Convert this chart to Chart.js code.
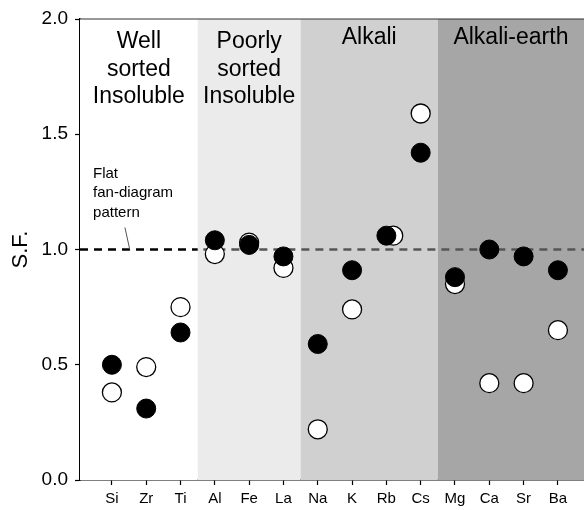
<!DOCTYPE html>
<html>
<head>
<meta charset="utf-8">
<script src="https://cdn.jsdelivr.net/npm/chart.js@4.4.0/dist/chart.umd.min.js"></script>
<style>
  html, body { margin: 0; padding: 0; background: #fff; }
  #wrap { width: 584px; height: 510px; }
</style>
</head>
<body>
<div id="wrap"><canvas id="sfChart" width="584" height="510"></canvas></div>
<script>
// elements along the x axis
const elements = ["Si", "Zr", "Ti", "Al", "Fe", "La", "Na", "K", "Rb", "Cs", "Mg", "Ca", "Sr", "Ba"];
// S.F. values
const filledSF = [0.50, 0.31, 0.64, 1.04, 1.02, 0.97, 0.59, 0.91, 1.06, 1.42, 0.88, 1.00, 0.97, 0.91];
const openSF   = [0.38, 0.49, 0.75, 0.98, 1.03, 0.92, 0.22, 0.74, 1.06, 1.59, 0.85, 0.42, 0.42, 0.65];
// Rb open circle sits a little to the right of its filled one
const openShift = [0, 0, 0, 0, 0, 0, 0, 0, 0.2, 0, 0, 0, 0, 0];
const yTicks = [0.0, 0.5, 1.0, 1.5, 2.0];
const flatLevel = 1.0;

// element groups (edges are between categories)
const groupNames = [["Well", "sorted", "Insoluble"], ["Poorly", "sorted", "Insoluble"], ["Alkali"], ["Alkali-earth"]];
const groupEdges = [2.5, 5.5, 9.5];
const groupFills = ["#ffffff", "#ebebeb", "#d0d0d0", "#a6a6a6"];

const xMin = -0.93, xMax = 13.76;
const FONT = "'Liberation Sans', Arial, Helvetica, sans-serif";

// background bands + labels + reference line
const bandPlugin = {
  id: "bands",
  beforeDatasetsDraw(chart) {
    const { ctx, chartArea, scales } = chart;
    const x = scales.x, y = scales.y;
    const edges = [xMin].concat(groupEdges, [xMax]);
    ctx.save();
    for (let i = 0; i < groupFills.length; i++) {
      const x0 = x.getPixelForValue(edges[i]);
      const x1 = x.getPixelForValue(edges[i + 1]);
      ctx.fillStyle = groupFills[i];
      ctx.fillRect(x0, chartArea.top, x1 - x0, chartArea.bottom - chartArea.top);

      ctx.fillStyle = "#000";
      ctx.font = "23px " + FONT;
      ctx.textAlign = "center";
      ctx.textBaseline = "middle";
      const cx = (x0 + x1) / 2;
      groupNames[i].forEach((line, k) => {
        ctx.fillText(line, cx, chartArea.top + (i < 2 ? 23 : 19) + k * 27.5);
      });
    }

    // top frame line
    ctx.strokeStyle = "#333";
    ctx.lineWidth = 1.2;
    ctx.beginPath();
    ctx.moveTo(chartArea.left, chartArea.top);
    ctx.lineTo(chartArea.right, chartArea.top);
    ctx.stroke();

    // flat fan-diagram reference line
    const yf = y.getPixelForValue(flatLevel);
    const split = x.getPixelForValue(groupEdges[0]);
    ctx.lineWidth = 2.5;
    ctx.setLineDash([8, 6]);
    ctx.strokeStyle = "#000";
    ctx.beginPath();
    ctx.moveTo(chartArea.left, yf);
    ctx.lineTo(split, yf);
    ctx.stroke();
    ctx.strokeStyle = "#555";
    ctx.lineDashOffset = -((split - chartArea.left) % 14);
    ctx.beginPath();
    ctx.moveTo(split, yf);
    ctx.lineTo(chartArea.right, yf);
    ctx.stroke();
    ctx.setLineDash([]);

    // annotation
    ctx.fillStyle = "#000";
    ctx.font = "15px " + FONT;
    ctx.textAlign = "left";
    const tx = x.getPixelForValue(-0.55);
    ["Flat", "fan-diagram", "pattern"].forEach((line, k) => {
      ctx.fillText(line, tx, yf - 76 + k * 19.5);
    });
    ctx.lineWidth = 1;
    ctx.beginPath();
    ctx.moveTo(x.getPixelForValue(0.38), yf - 22);
    ctx.lineTo(x.getPixelForValue(0.52), yf);
    ctx.stroke();
    ctx.restore();
  }
};

const ctx = document.getElementById("sfChart").getContext("2d");
const chart = new Chart(ctx, {
  type: "scatter",
  data: {
    datasets: [
      {
        label: "filled",
        order: 0,
        data: filledSF.map((v, i) => ({ x: i, y: v })),
        backgroundColor: "#000",
        borderColor: "#000",
        borderWidth: 1,
        pointRadius: 9.5,
        pointHoverRadius: 9.5,
      },
      {
        label: "open",
        order: 1,
        data: openSF.map((v, i) => ({ x: i + openShift[i], y: v })),
        backgroundColor: "#fff",
        borderColor: "#000",
        borderWidth: 1.3,
        pointRadius: 9.5,
        pointHoverRadius: 9.5,
      },
    ],
  },
  options: {
    responsive: false,
    animation: false,
    layout: { autoPadding: false, padding: { top: 19, right: 0, left: 0, bottom: 0 } },
    plugins: {
      legend: { display: false },
      tooltip: { enabled: false },
    },
    scales: {
      x: {
        type: "linear",
        min: xMin,
        max: xMax,
        afterBuildTicks: (scale) => {
          scale.ticks = elements.map((e, i) => ({ value: i }));
        },
        afterFit: (scale) => {
          scale.height = 30;
          scale.paddingLeft = 0;
          scale.paddingRight = 0;
        },
        ticks: {
          autoSkip: false,
          maxRotation: 0,
          padding: 5,
          color: "#000",
          font: { family: FONT, size: 15 },
          callback: (v) => elements[v],
        },
        grid: { drawOnChartArea: false, drawTicks: true, tickLength: 5, tickColor: "#000", tickWidth: 1.2 },
        border: { display: true, color: "#000", width: 1.5 },
      },
      y: {
        min: 0,
        max: 2,
        afterBuildTicks: (scale) => {
          scale.ticks = yTicks.map((v) => ({ value: v }));
        },
        afterFit: (scale) => {
          scale.width = 80;
          scale.paddingTop = 0;
          scale.paddingBottom = 0;
        },
        title: {
          display: true,
          text: "S.F.",
          color: "#000",
          font: { family: FONT, size: 22 },
          padding: { top: 8, bottom: 0 },
        },
        ticks: {
          padding: 7,
          color: "#000",
          font: { family: FONT, size: 19 },
          callback: (v) => v.toFixed(1),
        },
        grid: { drawOnChartArea: false, drawTicks: true, tickLength: 5, tickColor: "#000", tickWidth: 1.2 },
        border: { display: true, color: "#000", width: 1.5 },
      },
    },
  },
  plugins: [bandPlugin],
});
</script>
</body>
</html>
